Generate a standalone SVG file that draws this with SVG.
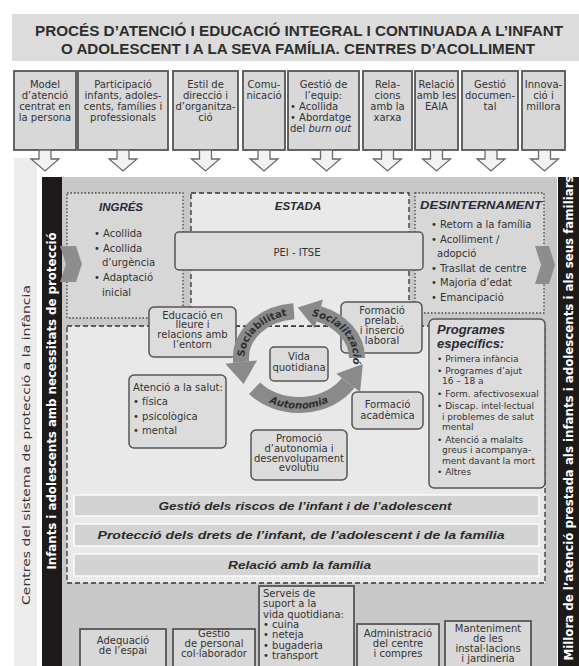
<svg xmlns="http://www.w3.org/2000/svg" width="579" height="666" viewBox="0 0 579 666">
<style>
.t{font-family:"DejaVu Sans","Liberation Sans",sans-serif;font-size:10px;fill:#333}
.c{text-anchor:middle}
.s9{font-size:9px}
.h{font-family:"Liberation Sans",Arial,sans-serif;font-weight:bold;font-style:italic;fill:#2a2a36}
.tb{fill:#d8d8d8;stroke:#555;stroke-width:1.8}
.nd{fill:#dcdcdc;stroke:#555;stroke-width:1.5}
.bar{fill:#d3d3d3;stroke:#fafafa;stroke-width:1.5}
.dot{stroke:#444;stroke-width:1.3;stroke-dasharray:1.5 2}
.dash{stroke:#333;stroke-width:1.3;stroke-dasharray:5 3}
.dn{fill:#f2f2f2;stroke:#6b6b6b;stroke-width:1.3}
.chev{fill:#8d8d8d}
.band{fill:none;stroke:#8a8a8a;stroke-width:16}
.head{fill:#8a8a8a}
.al{font-family:"DejaVu Sans",sans-serif;font-weight:bold;font-size:10px;fill:#2e2e2e}
.bt{font-family:"Liberation Sans",Arial,sans-serif;font-weight:bold;font-style:italic;font-size:11.5px;fill:#2a2a2a;text-anchor:middle}
</style>
<defs>
<path id="pSoc" d="M245,364.1 A54.4,43.4 0 0 1 294.2,314.7"/>
<path id="pSol" d="M310.3,315.6 A54.4,43.4 0 0 1 352.6,365.5"/>
<path id="pAut" d="M248.5,387 A61.6,50.6 0 0 0 349.5,387"/>
</defs>
<rect width="579" height="666" fill="#fff"/>

<g id="title">
<rect x="12" y="14" width="567" height="47" fill="#dcdcdc"/>
<text x="299" y="36" text-anchor="middle" font-family="Liberation Sans, Arial, sans-serif" font-weight="bold" font-size="14" fill="#2d2d2d" textLength="528" lengthAdjust="spacingAndGlyphs">PROCÉS D’ATENCIÓ I EDUCACIÓ INTEGRAL I CONTINUADA A L’INFANT</text>
<text x="298" y="54" text-anchor="middle" font-family="Liberation Sans, Arial, sans-serif" font-weight="bold" font-size="14" fill="#2d2d2d" textLength="474" lengthAdjust="spacingAndGlyphs">O ADOLESCENT I A LA SEVA FAMÍLIA. CENTRES D’ACOLLIMENT</text>
</g>

<g id="side-strips">
<rect x="14" y="158" width="23" height="508" fill="#ececec"/>
<text transform="translate(30.4,445) rotate(-90)" class="t c" font-size="12.5" textLength="320" lengthAdjust="spacingAndGlyphs">Centres del sistema de protecció a la infància</text>
<rect x="62" y="177" width="495" height="489" fill="#c8c8c8"/>
<rect x="42" y="177" width="20" height="489" fill="#1e1a1a"/>
<text transform="translate(56.3,401) rotate(-90)" text-anchor="middle" font-family="DejaVu Sans, sans-serif" font-weight="bold" font-size="12" fill="#fff" textLength="337" lengthAdjust="spacingAndGlyphs">Infants i adolescents amb necessitats de protecció</text>
<rect x="558" y="177" width="21" height="489" fill="#1e1a1a"/>
<text transform="translate(572.5,418) rotate(-90)" text-anchor="middle" font-family="DejaVu Sans, sans-serif" font-weight="bold" font-size="11.5" fill="#fff" textLength="485" lengthAdjust="spacingAndGlyphs">Millora de l’atenció prestada als infants i adolescents i als seus familiars</text>
</g>

<g id="top-1"><rect class="tb" x="14" y="71" width="62" height="79"/>
<text class="t c"><tspan x="45" y="87.5">Model</tspan><tspan x="45" y="98.5">d’atenció</tspan><tspan x="45" y="109.5">centrat en</tspan><tspan x="45" y="120.5">la persona</tspan></text></g>
<g id="top-2"><rect class="tb" x="78" y="71" width="90" height="79"/>
<text class="t c"><tspan x="123" y="87.5">Participació</tspan><tspan x="123" y="98.5">infants, adoles-</tspan><tspan x="123" y="109.5">cents, famílies i</tspan><tspan x="123" y="120.5">professionals</tspan></text></g>
<g id="top-3"><rect class="tb" x="173" y="71" width="65" height="79"/>
<text class="t c"><tspan x="205.5" y="87.5">Estil de</tspan><tspan x="205.5" y="98.5">direcció i</tspan><tspan x="205.5" y="109.5">d’organitza-</tspan><tspan x="205.5" y="120.5">ció</tspan></text></g>
<g id="top-4"><rect class="tb" x="243" y="71" width="42" height="79"/>
<text class="t c"><tspan x="264" y="87.5">Comu-</tspan><tspan x="264" y="98.5">nicació</tspan></text></g>
<g id="top-5"><rect class="tb" x="288" y="71" width="71" height="79"/>
<text class="t"><tspan x="323.5" y="87.5" text-anchor="middle">Gestió de</tspan><tspan x="323.5" y="98.5" text-anchor="middle">l’equip:</tspan><tspan x="290" y="109.5">• Acollida</tspan><tspan x="290" y="120.5">• Abordatge</tspan><tspan x="290" y="131.5">del <tspan font-style="italic">burn out</tspan></tspan></text></g>
<g id="top-6"><rect class="tb" x="363" y="71" width="49" height="79"/>
<text class="t c"><tspan x="387.5" y="87.5">Rela-</tspan><tspan x="387.5" y="98.5">cions</tspan><tspan x="387.5" y="109.5">amb la</tspan><tspan x="387.5" y="120.5">xarxa</tspan></text></g>
<g id="top-7"><rect class="tb" x="415" y="71" width="43" height="79"/>
<text class="t c"><tspan x="436.5" y="87.5">Relació</tspan><tspan x="436.5" y="98.5">amb les</tspan><tspan x="436.5" y="109.5">EAIA</tspan></text></g>
<g id="top-8"><rect class="tb" x="462" y="71" width="56" height="79"/>
<text class="t c"><tspan x="490" y="87.5">Gestió</tspan><tspan x="490" y="98.5">documen-</tspan><tspan x="490" y="109.5">tal</tspan></text></g>
<g id="top-9"><rect class="tb" x="522" y="71" width="43" height="79"/>
<text class="t c"><tspan x="543.5" y="87.5">Innova-</tspan><tspan x="543.5" y="98.5">ció i</tspan><tspan x="543.5" y="109.5">millora</tspan></text></g>

<g id="phases">
<rect x="67" y="193" width="116" height="125" fill="#d7d7d7" class="dot"/>
<rect x="415" y="193" width="129" height="120" fill="#d7d7d7" class="dot"/>
<rect x="67" y="326" width="478" height="257" fill="#e9e9e9" class="dash"/>
<rect x="191" y="193" width="218" height="133" fill="#e9e9e9" class="dash"/>
</g>

<g id="ingres">
<text class="h" x="121" y="211" font-size="11.5" text-anchor="middle">INGRÉS</text>
<text class="t" font-size="9.8"><tspan x="94" y="236.5">• Acollida</tspan><tspan x="94" y="251.5">• Acollida</tspan><tspan x="102" y="265.5">d’urgència</tspan><tspan x="94" y="280.5">• Adaptació</tspan><tspan x="102" y="295.5">inicial</tspan></text>
</g>
<g id="estada"><text class="h" x="298" y="209.5" font-size="11.5" text-anchor="middle">ESTADA</text></g>
<g id="desinternament">
<text class="h" x="481" y="209" font-size="11.5" text-anchor="middle" textLength="122" lengthAdjust="spacingAndGlyphs">DESINTERNAMENT</text>
<text class="t" font-size="9.7"><tspan x="431" y="228.4">• Retorn a la família</tspan><tspan x="431" y="243.4">• Acolliment /</tspan><tspan x="437" y="257.4">adopció</tspan><tspan x="431" y="272.4">• Trasllat de centre</tspan><tspan x="431" y="286.4">• Majoria d’edat</tspan><tspan x="431" y="301.4">• Emancipació</tspan></text>
</g>

<g id="pei-itse"><rect class="nd" x="175" y="232" width="248" height="38" rx="4"/>
<text class="t c" x="297" y="256.3" font-size="12">PEI - ITSE</text></g>

<g id="bar-riscos"><rect class="bar" x="74" y="495" width="465" height="21"/>
<text class="bt" x="305" y="509.5" textLength="293" lengthAdjust="spacingAndGlyphs">Gestió dels riscos de l’infant i de l’adolescent</text></g>
<g id="bar-drets"><rect class="bar" x="74" y="524" width="465" height="22"/>
<text class="bt" x="301" y="539" textLength="407" lengthAdjust="spacingAndGlyphs">Protecció dels drets de l’infant, de l’adolescent i de la família</text></g>
<g id="bar-familia"><rect class="bar" x="74" y="554" width="465" height="22"/>
<text class="bt" x="299.5" y="569" textLength="143" lengthAdjust="spacingAndGlyphs">Relació amb la família</text></g>

<g id="educacio"><rect class="nd" x="149" y="307" width="87" height="50" rx="5"/>
<text class="t c" font-size="9.4"><tspan x="192.5" y="318.5">Educació en</tspan><tspan x="192.5" y="328.3">lleure i</tspan><tspan x="192.5" y="338.1">relacions amb</tspan><tspan x="192.5" y="347.9">l’entorn</tspan></text></g>
<g id="salut"><rect class="nd" x="129" y="375" width="97" height="73" rx="5"/>
<text class="t" font-size="9.5"><tspan x="133" y="390.5">Atenció a la salut:</tspan><tspan x="133" y="404.5">• física</tspan><tspan x="133" y="419.5">• psicològica</tspan><tspan x="133" y="433.5">• mental</tspan></text></g>
<g id="vida"><rect class="nd" x="270" y="347" width="58" height="34" rx="4"/>
<text class="t c" font-size="9.8"><tspan x="299" y="360">Vida</tspan><tspan x="299" y="370.5">quotidiana</tspan></text></g>
<g id="prelab"><rect class="nd" x="341" y="302" width="81" height="51" rx="5"/>
<text class="t c" font-size="9.4"><tspan x="382" y="314.3">Formació</tspan><tspan x="382" y="324.1">prelab.</tspan><tspan x="382" y="333.9">i inserció</tspan><tspan x="382" y="343.7">laboral</tspan></text></g>
<g id="academica"><rect class="nd" x="352" y="392" width="71" height="37" rx="5"/>
<text class="t c"><tspan x="387.5" y="408">Formació</tspan><tspan x="387.5" y="418.5">acadèmica</tspan></text></g>
<g id="promocio"><rect class="nd" x="251" y="430" width="96" height="50" rx="5"/>
<text class="t c" font-size="9.4"><tspan x="299" y="442">Promoció</tspan><tspan x="299" y="451.8">d’autonomia i</tspan><tspan x="299" y="461.6">desenvolupament</tspan><tspan x="299" y="471.4">evolutiu</tspan></text></g>
<g id="programes"><rect class="nd" x="429" y="319" width="116" height="169" rx="5"/>
<text class="h" font-size="13"><tspan x="437" y="334">Programes</tspan><tspan x="437" y="348">específics:</tspan></text>
<text class="t s9"><tspan x="437" y="362.2">• Primera infància</tspan><tspan x="437" y="374.2">• Programes d’ajut</tspan><tspan x="442" y="384.2">16 – 18 a</tspan><tspan x="437" y="397.2">• Form. afectivosexual</tspan><tspan x="437" y="409.2">• Discap. intel·lectual</tspan><tspan x="442" y="420.2">i problemes de salut</tspan><tspan x="442" y="430.2">mental</tspan><tspan x="437" y="443.2">• Atenció a malalts</tspan><tspan x="442" y="453.2">greus i acompanya-</tspan><tspan x="442" y="464.2">ment davant la mort</tspan><tspan x="437" y="475.2">• Altres</tspan></text></g>

<g id="bottom-1"><rect class="tb" x="80" y="629" width="86" height="40"/>
<text class="t c"><tspan x="123" y="643.5">Adequació</tspan><tspan x="123" y="654">de l’espai</tspan></text></g>
<g id="bottom-2"><rect class="tb" x="173" y="629" width="82" height="40"/>
<text class="t c"><tspan x="214" y="636.5">Gestió</tspan><tspan x="214" y="646.5">de personal</tspan><tspan x="214" y="656.5">col·laborador</tspan></text></g>
<g id="bottom-3"><rect class="tb" x="259" y="586" width="95" height="83"/>
<text class="t"><tspan x="263" y="597">Serveis de</tspan><tspan x="263" y="607.3">suport a la</tspan><tspan x="263" y="617.6">vida quotidiana:</tspan><tspan x="263" y="627.9">• cuina</tspan><tspan x="263" y="638.2">• neteja</tspan><tspan x="263" y="648.5">• bugaderia</tspan><tspan x="263" y="658.8">• transport</tspan></text></g>
<g id="bottom-4"><rect class="tb" x="357" y="624" width="82" height="45"/>
<text class="t c"><tspan x="398" y="636.5">Administració</tspan><tspan x="398" y="646.5">del centre</tspan><tspan x="398" y="656.5">i compres</tspan></text></g>
<g id="bottom-5"><rect class="tb" x="445" y="621" width="86" height="48"/>
<text class="t c"><tspan x="488" y="631.5">Manteniment</tspan><tspan x="488" y="641.5">de les</tspan><tspan x="488" y="651.5">instal·lacions</tspan><tspan x="488" y="661.5">i jardineria</tspan></text></g>

<g id="connectors">
<g id="down-arrows">
<path class="dn" d="M39,150 H51 V159 H59 L45,171 L31,159 H39 Z"/>
<path class="dn" d="M117,150 H129 V159 H137 L123,171 L109,159 H117 Z"/>
<path class="dn" d="M199.5,150 H211.5 V159 H219.5 L205.5,171 L191.5,159 H199.5 Z"/>
<path class="dn" d="M258,150 H270 V159 H278 L264,171 L250,159 H258 Z"/>
<path class="dn" d="M320.5,150 H332.5 V159 H340.5 L326.5,171 L312.5,159 H320.5 Z"/>
<path class="dn" d="M381.5,150 H393.5 V159 H401.5 L387.5,171 L373.5,159 H381.5 Z"/>
<path class="dn" d="M430.5,150 H442.5 V159 H450.5 L436.5,171 L422.5,159 H430.5 Z"/>
<path class="dn" d="M485,150 H497 V159 H505 L491,171 L477,159 H485 Z"/>
<path class="dn" d="M538.5,150 H550.5 V159 H558.5 L544.5,171 L530.5,159 H538.5 Z"/>
</g>
<polygon class="chev" points="60,246 76,246 82,264 76,282 60,282 66,264"/>
<polygon class="chev" points="535,246 549,246 555,265 549,284 535,284 541,265"/>
<g id="cycle">
<path class="band" d="M293.9,311.2 A58,47 0 0 0 241.2,362.1"/>
<polygon class="head" points="225.3,363.8 257.1,360.4 243.6,384"/>
<path class="band" d="M254.6,388.2 A58,47 0 0 0 348.2,382.9"/>
<polygon class="head" points="360.1,392.1 336.3,373.8 362.8,363.9"/>
<path class="band" d="M357,358 A58,47 0 0 0 318.8,313.8"/>
<polygon class="head" points="323,299.4 314.6,328.2 297.7,307.6"/>
<text class="al"><textPath href="#pSoc" startOffset="50%" text-anchor="middle">Sociabilitat</textPath></text>
<text class="al" font-style="italic" font-size="9.6"><textPath href="#pSol" startOffset="50%" text-anchor="middle">Socialització</textPath></text>
<text class="al" font-style="italic"><textPath href="#pAut" startOffset="50%" text-anchor="middle">Autonomia</textPath></text>
</g>
</g>
</svg>
